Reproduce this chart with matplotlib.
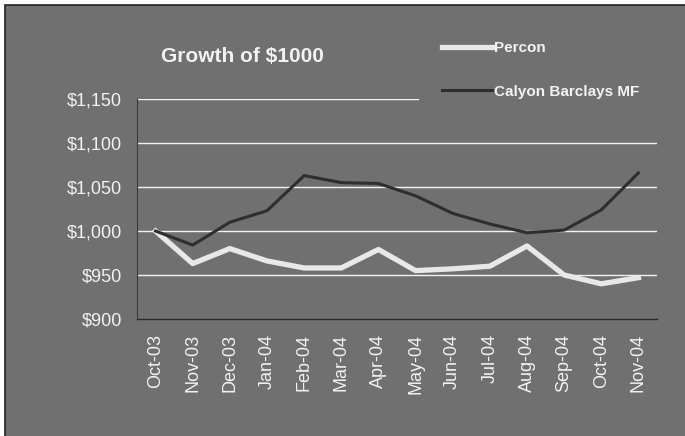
import matplotlib
matplotlib.use("Agg")
import matplotlib.pyplot as plt
from matplotlib.patches import Rectangle

months = ["Oct-03", "Nov-03", "Dec-03", "Jan-04", "Feb-04", "Mar-04", "Apr-04",
          "May-04", "Jun-04", "Jul-04", "Aug-04", "Sep-04", "Oct-04", "Nov-04"]
percon = [1000, 963, 980, 966, 958, 958, 979, 955, 957, 960, 983, 950, 940, 947]
calyon = [1000, 984, 1010, 1023, 1063, 1055, 1054, 1040, 1020, 1008, 998, 1001, 1024, 1066]
y_ticks = [900, 950, 1000, 1050, 1100, 1150]
y_labels = ["$900", "$950", "$1,000", "$1,050", "$1,100", "$1,150"]

W, H = 685, 436
BG = "#707070"
FG = "#f2f2f2"
plt.rcParams["font.family"] = ["Liberation Sans", "DejaVu Sans"]

fig = plt.figure(figsize=(W / 100, H / 100), dpi=100)
fig.patch.set_facecolor("white")
fig.patches.append(Rectangle((5 / W, -0.01), 1.0, (H - 5) / H + 0.01,
                             transform=fig.transFigure, facecolor=BG,
                             edgecolor="#222222", linewidth=1.2, zorder=-10))

left, right, top, bottom = 137, 657, 99, 319
ax = fig.add_axes([left / W, 1 - bottom / H, (right - left) / W, (bottom - top) / H])
ax.set_facecolor("none")
ax.set_zorder(1)

x = list(range(len(months)))
ax.set_xlim(-0.5, len(months) - 0.5)
ax.set_ylim(900, 1150)

for v in y_ticks[1:-1]:
    ax.axhline(v, color=FG, linewidth=1.0, zorder=1)
ax.axhline(1150, xmin=0, xmax=(418 - left) / (right - left), color=FG, linewidth=1.0, zorder=1)

ax.plot(x, percon, color="#e8e8e8", linewidth=3.8, solid_joinstyle="round", zorder=3, label="Percon")
ax.plot(x, calyon, color="#2e2e2e", linewidth=2.2, solid_joinstyle="round", zorder=3, label="Calyon Barclays MF")

ax.set_yticks(y_ticks)
ax.set_yticklabels(y_labels)
ax.set_xticks(x)
ax.set_xticklabels(months, rotation=90)
ax.tick_params(axis="y", length=0, pad=11, labelsize=13, labelcolor=FG)
ax.tick_params(axis="x", length=0, pad=11, labelsize=13, labelcolor=FG)
for s in ["top", "right"]:
    ax.spines[s].set_visible(False)
ax.spines["left"].set_color("#3a3a3a")
ax.spines["left"].set_linewidth(0.8)
ax.spines["bottom"].set_color("#2a2a2a")
ax.spines["bottom"].set_linewidth(1.0)

fig.text(161 / W, 1 - 56 / H, "Growth of $1000", color=FG, fontsize=15,
         fontweight="bold", ha="left", va="center")

handles, labels = ax.get_legend_handles_labels()
leg = fig.legend(handles, labels, loc="upper left",
                 bbox_to_anchor=(442 / W, 1 - 41 / H), frameon=False,
                 borderpad=0, borderaxespad=0, handlelength=3.3,
                 handletextpad=0.1, labelspacing=1.95,
                 prop={"size": 11, "weight": "bold"})
for t in leg.get_texts():
    t.set_color(FG)

fig.savefig("out.png", dpi=100, facecolor=fig.get_facecolor())
